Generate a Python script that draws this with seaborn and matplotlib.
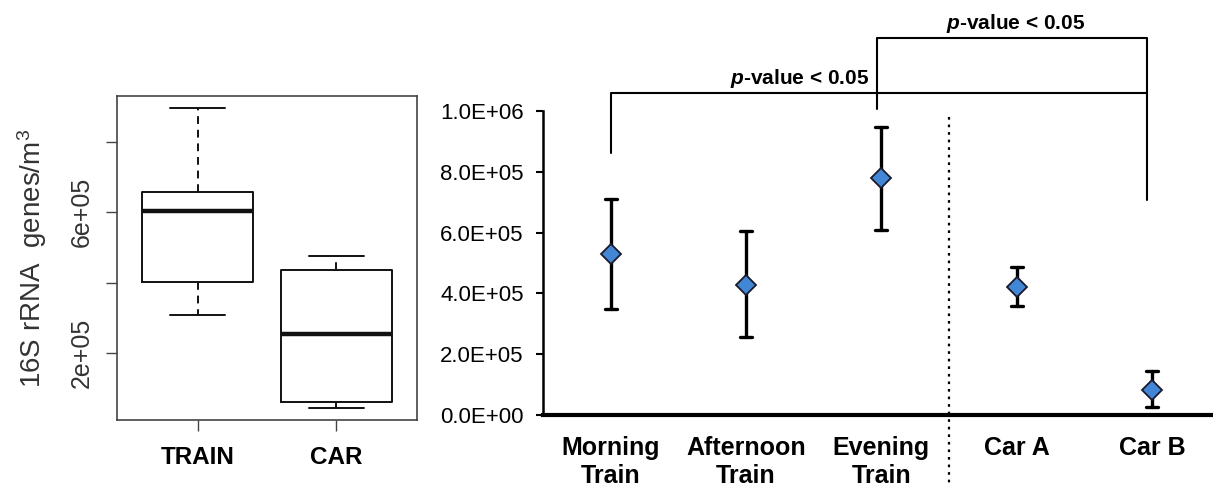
import numpy as np
import pandas as pd
import matplotlib
matplotlib.use("Agg")
import matplotlib.pyplot as plt
from matplotlib.ticker import FuncFormatter
import seaborn as sns

# ---------------- data ----------------
# Left panel: five-number summaries
box_groups = ["TRAIN", "CAR"]
train_summary = [3.09e5, 4.03e5, 6.03e5, 6.57e5, 8.97e5]   # min, Q1, median, Q3, max
car_summary = [0.43e5, 0.60e5, 2.54e5, 4.37e5, 4.77e5]

# Right panel: mean and error-bar range per condition
conditions = ["Morning\nTrain", "Afternoon\nTrain", "Evening\nTrain", "Car A", "Car B"]
means = [5.30e5, 4.28e5, 7.80e5, 4.20e5, 0.82e5]
err_low = [3.50e5, 2.55e5, 6.10e5, 3.58e5, 0.25e5]
err_high = [7.10e5, 6.05e5, 9.47e5, 4.87e5, 1.45e5]

left_yticks = [2e5, 4e5, 6e5, 8e5]
left_yticklabels = ["2e+05", "", "6e+05", ""]
right_yticks = [0, 2e5, 4e5, 6e5, 8e5, 1e6]
sig_label = r"$\mathbf{\it{p}}$-value < 0.05"

# ---------------- style ----------------
sns.set_theme(style="white")
plt.rcParams["font.family"] = ["Liberation Sans", "DejaVu Sans"]
plt.rcParams["mathtext.fontset"] = "custom"
plt.rcParams["mathtext.it"] = "Liberation Sans:italic:bold"
plt.rcParams["mathtext.bf"] = "Liberation Sans:bold"
plt.rcParams["mathtext.rm"] = "Liberation Sans"
for key in ["text.color", "axes.labelcolor", "xtick.color", "ytick.color"]:
    plt.rcParams[key] = "black"

fig = plt.figure(figsize=(12.13, 4.87), dpi=100)

# ---------------- left panel ----------------
axL = fig.add_axes([117 / 1213, 1 - 420 / 487, 300 / 1213, 324 / 487])
box_df = pd.DataFrame({
    "group": ["TRAIN"] * len(train_summary) + ["CAR"] * len(car_summary),
    "value": train_summary + car_summary,
})
sns.boxplot(data=box_df, x="group", y="value", order=box_groups, ax=axL,
            width=0.8, fill=False, color="#111111", linewidth=1.4, whis=1.5,
            medianprops={"linewidth": 3.2},
            whiskerprops={"linestyle": (0, (4, 3))})
axL.set_xlim(-0.58, 1.58)
axL.set_ylim(0.9e4, 9.31e5)
axL.set_yticks(left_yticks)
axL.set_yticklabels(left_yticklabels, rotation=90, va="center", fontsize=18,
                    color="#333333")
axL.set_xticks([0, 1])
axL.set_xticklabels(box_groups, fontsize=17.5, fontweight="bold")
axL.tick_params(axis="y", direction="out", length=8, width=1.0, color="#444444",
                pad=9, left=True)
axL.tick_params(axis="x", direction="out", length=8, width=1.0, color="#444444",
                pad=11, bottom=True)
for s in axL.spines.values():
    s.set_visible(True)
    s.set_color("#444444")
    s.set_linewidth(1.2)
axL.set_xlabel("")
axL.set_ylabel("")
fig.text(32 / 1213, 1 - 258 / 487, r"16S rRNA  genes/m$^3$", rotation=90,
         ha="center", va="center", fontsize=20, color="#333333")

# ---------------- right panel ----------------
axR = fig.add_axes([543 / 1213, 1 - 415 / 487, 670 / 1213, 304 / 487])
pts_df = pd.DataFrame({
    "condition": conditions * 3,
    "value": err_low + means + err_high,
})
sns.pointplot(data=pts_df, x="condition", y="value", order=conditions, ax=axR,
              estimator="median", errorbar=lambda v: (v.min(), v.max()),
              color="black", markers="D", linestyle="none", capsize=0.09,
              markersize=10, markerfacecolor="#4287D6", markeredgecolor="#1a1a2a",
              markeredgewidth=1.3, err_kws={"linewidth": 2.4, "zorder": 2},
              zorder=3)
axR.set_xlim(-0.5, 4.45)
axR.set_ylim(0, 1e6)
axR.set_yticks(right_yticks)
axR.yaxis.set_major_formatter(FuncFormatter(lambda v, p: f"{v:.1E}"))
axR.tick_params(axis="y", direction="out", length=5, width=1.5, color="black",
                pad=9, labelsize=16, left=True)
axR.tick_params(axis="x", length=0, pad=15, labelsize=18)
for lab in axR.get_xticklabels():
    lab.set_fontweight("bold")
for side in ["top", "right"]:
    axR.spines[side].set_visible(False)
axR.spines["left"].set_color("black")
axR.spines["left"].set_linewidth(1.8)
axR.spines["bottom"].set_color("black")
axR.spines["bottom"].set_linewidth(3)
axR.set_xlabel("")
axR.set_ylabel("")

# dotted separator between train and car groups
axR.plot([2.5, 2.5], [0.98e6, -0.24e6], linestyle=(0, (1.2, 2.2)), color="black",
         linewidth=1.6, clip_on=False)

# significance brackets
bk = dict(color="black", linewidth=1.5, clip_on=False)
axR.plot([0, 0, 3.96, 3.96], [0.862e6, 1.06e6, 1.06e6, 0.707e6], **bk)
axR.plot([1.97, 1.97, 3.96, 3.96], [1.007e6, 1.24e6, 1.24e6, 1.06e6], **bk)
axR.text(1.40, 1.09e6, sig_label, ha="center", va="baseline", fontsize=15,
         fontweight="bold")
axR.text(2.99, 1.27e6, sig_label, ha="center", va="baseline", fontsize=15,
         fontweight="bold")

fig.savefig("out.png", dpi=100)
